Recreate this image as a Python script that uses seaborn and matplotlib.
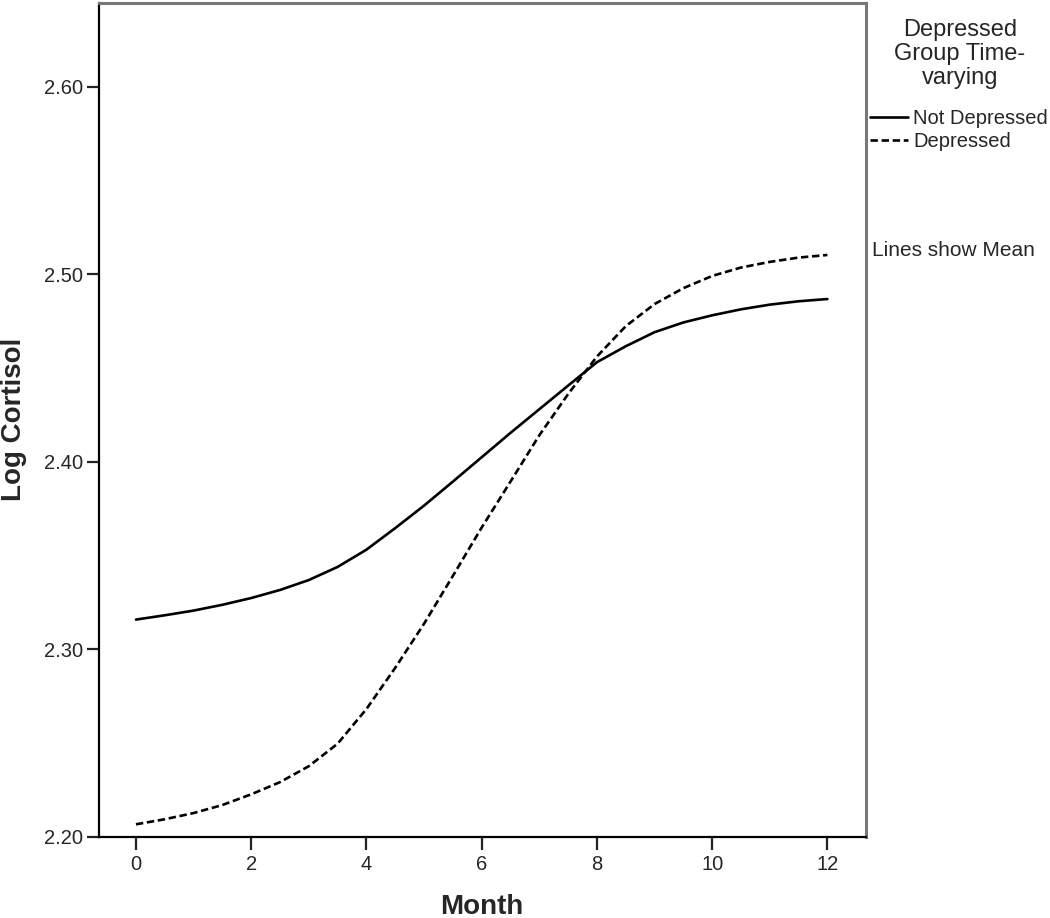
import numpy as np
import pandas as pd
import matplotlib
matplotlib.use("Agg")
import matplotlib.pyplot as plt
import seaborn as sns

# Values (half-month steps)
months = [0, 0.5, 1, 1.5, 2, 2.5, 3, 3.5, 4, 4.5, 5, 5.5, 6,
          6.5, 7, 7.5, 8, 8.5, 9, 9.5, 10, 10.5, 11, 11.5, 12]
not_depressed = [2.3157, 2.3180, 2.3205, 2.3236, 2.3272, 2.3315, 2.3368, 2.3438,
                 2.3530, 2.3645, 2.3765, 2.3893, 2.4023, 2.4153, 2.4279, 2.4405,
                 2.4530, 2.4615, 2.4690, 2.4742, 2.4780, 2.4812, 2.4837, 2.4855,
                 2.4867]
depressed = [2.2065, 2.2092, 2.2125, 2.2168, 2.2225, 2.2290, 2.2375, 2.2495,
             2.2680, 2.2900, 2.3135, 2.3390, 2.3648, 2.3893, 2.4140, 2.4360,
             2.4560, 2.4722, 2.4840, 2.4925, 2.4990, 2.5035, 2.5065, 2.5088,
             2.5102]
groups = ["Not Depressed", "Depressed"]
y_ticks = [2.20, 2.30, 2.40, 2.50, 2.60]
x_ticks = [0, 2, 4, 6, 8, 10, 12]

df = pd.DataFrame({
    "Month": months * 2,
    "Log Cortisol": not_depressed + depressed,
    "group": [groups[0]] * len(months) + [groups[1]] * len(months),
})

sns.set_style("ticks")
plt.rcParams["font.family"] = ["Liberation Sans", "DejaVu Sans"]

fig = plt.figure(figsize=(10.5, 9.18), dpi=100)
ax = fig.add_axes([98.5 / 1050, 1 - 836.5 / 918, (866 - 98.5) / 1050, (836.5 - 3) / 918])

sns.lineplot(data=df, x="Month", y="Log Cortisol", style="group", style_order=groups,
             dashes={"Not Depressed": "", "Depressed": (2.8, 1.4)},
             color="black", linewidth=1.9, ax=ax, legend=True)
for line in ax.lines:
    line.set_solid_joinstyle("round")
    line.set_dash_joinstyle("round")

ax.set_xlim(-0.65, 12.67)
ax.set_ylim(2.20, 2.6446)
ax.set_xticks(x_ticks)
ax.set_yticks(y_ticks)
ax.set_yticklabels([f"{v:.2f}" for v in y_ticks])
ax.tick_params(axis="both", length=9, width=1.6, color="#222222", labelsize=14.5)
ax.tick_params(axis="y", pad=2)
ax.tick_params(axis="x", pad=4)

for side in ["left", "bottom"]:
    ax.spines[side].set_color("black")
    ax.spines[side].set_linewidth(1.6)
for side in ["top", "right"]:
    ax.spines[side].set_visible(True)
    ax.spines[side].set_color("#777777")
    ax.spines[side].set_linewidth(2.2)

ax.set_xlabel("Month", fontsize=20, fontweight="bold")
ax.set_ylabel("Log Cortisol", fontsize=20, fontweight="bold")
ax.xaxis.set_label_coords(0.5, -0.069)
ax.yaxis.set_label_coords(-0.093, 0.5)

# Legend title drawn separately so the gap to the entries matches
fig.text(960 / 1050, 1 - 19 / 918, "Depressed\nGroup Time-\nvarying", fontsize=17,
         ha="center", va="top", multialignment="center", linespacing=1.12)

handles, labels = ax.get_legend_handles_labels()
leg = ax.legend(handles, labels, loc="upper left",
                bbox_to_anchor=(866 / 1050, 1 - 105 / 918),
                bbox_transform=fig.transFigure, frameon=False,
                fontsize=14.5, handlelength=1.9, handletextpad=0.25,
                labelspacing=0.2, borderaxespad=0, borderpad=0.2)

fig.text(872 / 1050, 1 - 250 / 918, "Lines show Mean", fontsize=15, va="center", ha="left")

fig.savefig("out.png", dpi=100)
